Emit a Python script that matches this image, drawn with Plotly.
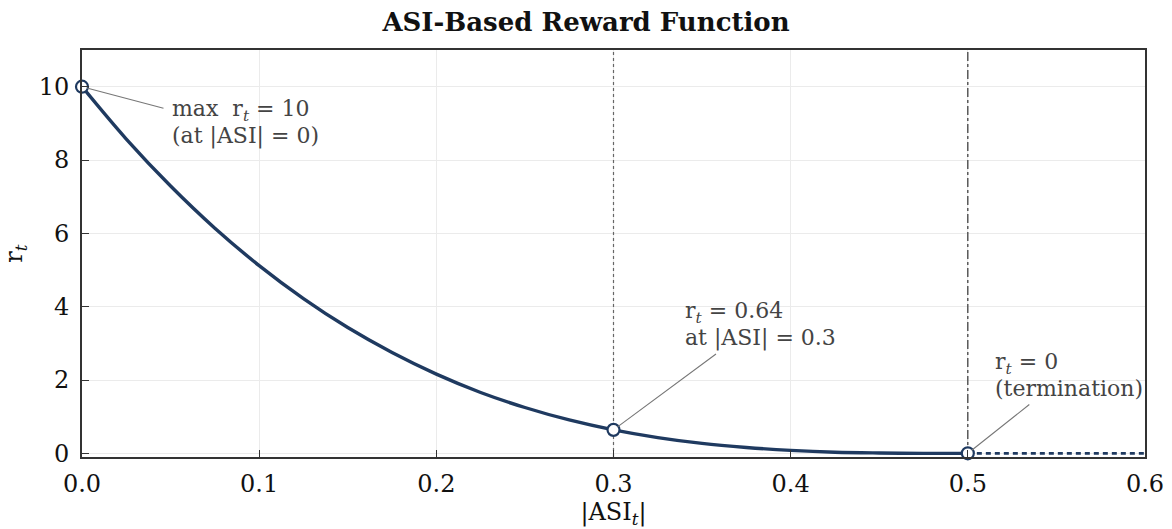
import plotly.graph_objects as go

# |ASI| samples and the reward
asi = [0.0, 0.025, 0.05, 0.075, 0.1, 0.125, 0.15, 0.175, 0.2, 0.225, 0.25,
       0.275, 0.3, 0.325, 0.35, 0.375, 0.4, 0.425, 0.45, 0.475, 0.5]
reward = [10.0, 8.57, 7.29, 6.14, 5.12, 4.22, 3.43, 2.75, 2.16, 1.66, 1.25,
          0.91, 0.64, 0.43, 0.27, 0.16, 0.08, 0.03, 0.01, 0.0, 0.0]

# beyond the termination threshold the reward stays at zero
term_asi = [0.5, 0.6]
term_reward = [0.0, 0.0]

# highlighted points
key_asi = [0.0, 0.3, 0.5]
key_reward = [10.0, 0.64, 0.0]

x_ticks = [0.0, 0.1, 0.2, 0.3, 0.4, 0.5, 0.6]
x_tick_labels = ["0.0", "0.1", "0.2", "0.3", "0.4", "0.5", "0.6"]
y_ticks = [0, 2, 4, 6, 8, 10]

x_range = [0, 0.6]
y_range = [-0.1, 11]

NAVY = "#1f3a60"
FONT = "DejaVu Serif"

fig = go.Figure()

# reference lines at the mid-point and the termination threshold,
# drawn as traces so they sit above the grid but beneath the curve
for xv, col, dash in [(key_asi[1], "#666666", "dot"),
                      (key_asi[2], "#333333", "dashdot")]:
    fig.add_trace(go.Scatter(x=[xv, xv], y=y_range, mode="lines",
                             line=dict(color=col, width=1.2, dash=dash),
                             hoverinfo="skip", showlegend=False))

fig.add_trace(go.Scatter(x=asi, y=reward, mode="lines",
                         line=dict(color=NAVY, width=3.4, shape="spline"),
                         hoverinfo="skip", showlegend=False))
fig.add_trace(go.Scatter(x=term_asi, y=term_reward, mode="lines",
                         line=dict(color=NAVY, width=2.8, dash="5px,4px"),
                         hoverinfo="skip", showlegend=False))

fig.add_trace(go.Scatter(x=key_asi, y=key_reward, mode="markers",
                         marker=dict(size=12, color="white",
                                     line=dict(color=NAVY, width=2.2)),
                         cliponaxis=False,
                         hoverinfo="skip", showlegend=False))

# connector lines from each point toward its label
for px, py, dx, dy in [(key_asi[0], key_reward[0], 83, 22),
                       (key_asi[1], key_reward[1], 104, -77),
                       (key_asi[2], key_reward[2], 63, -50)]:
    fig.add_annotation(x=px, y=py, text="", showarrow=True, arrowhead=0,
                       arrowwidth=1.1, arrowcolor="#777777", ax=dx, ay=dy,
                       standoff=5)

label_font = dict(family=FONT, size=22, color="#444444")
labels = [
    (0.05, 9.0, ["max  r<sub><i>t</i></sub> = 10", "(at |ASI| = 0)"]),
    (0.34, 3.5, ["r<sub><i>t</i></sub> = 0.64", "at |ASI| = 0.3"]),
    (0.515, 2.1, ["r<sub><i>t</i></sub> = 0", "(termination)"]),
]
for lx, ly, lines in labels:
    for shift, txt in zip([12.5, -12.5], lines):
        fig.add_annotation(x=lx, y=ly, text=txt, showarrow=False, align="left",
                           xanchor="left", yanchor="middle", yshift=shift,
                           font=label_font, borderpad=0)

axis_common = dict(
    showline=True, mirror=True, linecolor="#333333", linewidth=1.6,
    ticks="inside", ticklen=7, tickwidth=1.2, tickcolor="#333333",
    showgrid=True, gridcolor="#ebebeb", gridwidth=1, zeroline=False,
    automargin=False,
    tickfont=dict(family=FONT, size=24, color="#111111"),
)

fig.update_xaxes(range=x_range, tickvals=x_ticks, ticktext=x_tick_labels,
                 ticklabelstandoff=4,
                 title=dict(text="|ASI<sub><i>t</i></sub>|", standoff=12,
                            font=dict(family=FONT, size=24, color="#111111")),
                 **axis_common)
fig.update_yaxes(range=y_range, tickvals=y_ticks,
                 ticklabelstandoff=6,
                 title=dict(text="r<sub><i>t</i></sub>", standoff=12,
                            font=dict(family=FONT, size=24, color="#111111")),
                 **axis_common)

fig.update_layout(
    width=1172, height=529,
    margin=dict(l=82, r=27, t=50, b=72),
    paper_bgcolor="white", plot_bgcolor="white",
    title=dict(text="<b>ASI-Based Reward Function</b>", x=0.5, xanchor="center",
               y=0.958, yanchor="middle",
               font=dict(family=FONT, size=26, color="#111111")),
    font=dict(family=FONT),
)

fig.write_html("out.html")
